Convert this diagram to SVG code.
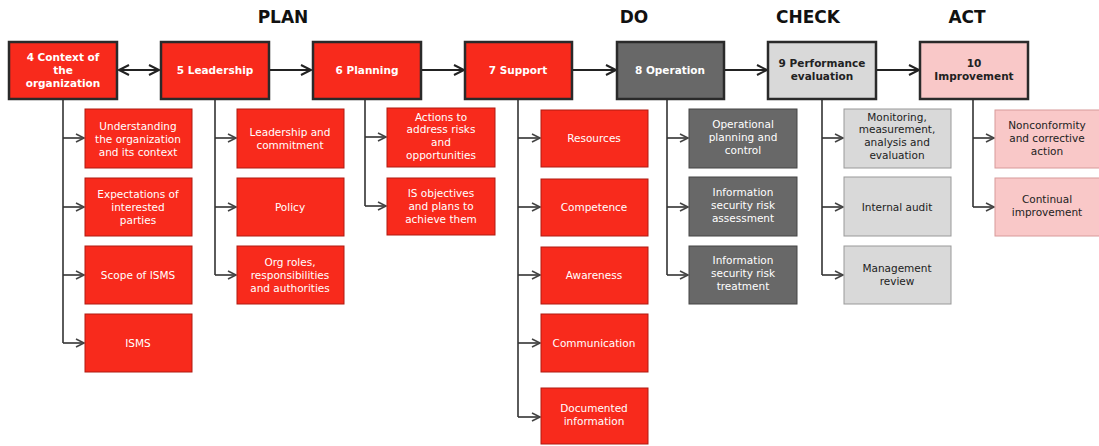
<svg xmlns="http://www.w3.org/2000/svg" width="1099" height="446" viewBox="0 0 1099 446">
<defs>
<marker id="ah" markerUnits="userSpaceOnUse" markerWidth="14" markerHeight="14" refX="11" refY="6" orient="auto-start-reverse">
<path d="M1,1 L11,6 L1,11" fill="none" stroke="#222" stroke-width="2"/>
</marker>
<marker id="ahs" markerUnits="userSpaceOnUse" markerWidth="12" markerHeight="12" refX="9" refY="5" orient="auto">
<path d="M1,1 L9,5 L1,9" fill="none" stroke="#444" stroke-width="1.6"/>
</marker>
</defs>
<style>
.hd{font-family:"DejaVu Sans",Verdana,sans-serif;font-weight:bold;font-size:17px;fill:#111;text-anchor:middle}
.top{stroke:#2a2a2a;stroke-width:2.5}
.red{fill:#f82a1c}
.dk{fill:#686868}
.lg{fill:#d9d9d9}
.pk{fill:#f9c8c8}
.sub{stroke:#b01a10;stroke-width:1}
.subg{stroke:#444;stroke-width:1}
.subl{stroke:#999;stroke-width:1}
.subp{stroke:#d89a9a;stroke-width:1}
.tt{font-family:"DejaVu Sans",Verdana,sans-serif;font-weight:bold;font-size:10.5px;text-anchor:middle}
.st{font-family:"DejaVu Sans",Verdana,sans-serif;font-size:10.5px;text-anchor:middle}
.w{fill:#fff}
.b{fill:#222}
.ln{fill:none;stroke:#222;stroke-width:2}
.sl{fill:none;stroke:#333;stroke-width:1.6}
</style>
<rect width="1099" height="446" fill="#fff"/>
<g id="headers">
<text class="hd" x="283" y="23">PLAN</text>
<text class="hd" x="634" y="23">DO</text>
<text class="hd" x="808" y="23">CHECK</text>
<text class="hd" x="967" y="23">ACT</text>
</g>
<g id="connectors">
<line class="ln" x1="119" y1="70" x2="159" y2="70" marker-start="url(#ah)" marker-end="url(#ah)"/>
<line class="ln" x1="270" y1="70" x2="311" y2="70" marker-end="url(#ah)"/>
<line class="ln" x1="422" y1="70" x2="464" y2="70" marker-end="url(#ah)"/>
<line class="ln" x1="573" y1="70" x2="616" y2="70" marker-end="url(#ah)"/>
<line class="ln" x1="725" y1="70" x2="767" y2="70" marker-end="url(#ah)"/>
<line class="ln" x1="877" y1="70" x2="919" y2="70" marker-end="url(#ah)"/>
<path class="sl" d="M63,100 V343"/>
<path class="sl" d="M63,138 H84" marker-end="url(#ahs)"/>
<path class="sl" d="M63,207 H84" marker-end="url(#ahs)"/>
<path class="sl" d="M63,275 H84" marker-end="url(#ahs)"/>
<path class="sl" d="M63,343 H84" marker-end="url(#ahs)"/>
<path class="sl" d="M215,100 V275"/>
<path class="sl" d="M215,138 H236" marker-end="url(#ahs)"/>
<path class="sl" d="M215,207 H236" marker-end="url(#ahs)"/>
<path class="sl" d="M215,275 H236" marker-end="url(#ahs)"/>
<path class="sl" d="M365,100 V206"/>
<path class="sl" d="M365,137 H386" marker-end="url(#ahs)"/>
<path class="sl" d="M365,206 H386" marker-end="url(#ahs)"/>
<path class="sl" d="M518,100 V417"/>
<path class="sl" d="M518,138 H540" marker-end="url(#ahs)"/>
<path class="sl" d="M518,207 H540" marker-end="url(#ahs)"/>
<path class="sl" d="M518,275 H540" marker-end="url(#ahs)"/>
<path class="sl" d="M518,343 H540" marker-end="url(#ahs)"/>
<path class="sl" d="M518,417 H540" marker-end="url(#ahs)"/>
<path class="sl" d="M667,100 V275"/>
<path class="sl" d="M667,138 H688" marker-end="url(#ahs)"/>
<path class="sl" d="M667,207 H688" marker-end="url(#ahs)"/>
<path class="sl" d="M667,275 H688" marker-end="url(#ahs)"/>
<path class="sl" d="M822,100 V275"/>
<path class="sl" d="M822,138 H843" marker-end="url(#ahs)"/>
<path class="sl" d="M822,207 H843" marker-end="url(#ahs)"/>
<path class="sl" d="M822,275 H843" marker-end="url(#ahs)"/>
<path class="sl" d="M973,100 V207"/>
<path class="sl" d="M973,138 H994" marker-end="url(#ahs)"/>
<path class="sl" d="M973,207 H994" marker-end="url(#ahs)"/>
</g>
<g id="n4"><rect class="red top" x="9" y="42" width="108" height="57"/><text class="tt w" x="63" y="61">4 Context of</text><text class="tt w" x="63" y="74">the</text><text class="tt w" x="63" y="87">organization</text></g>
<g id="n5"><rect class="red top" x="161" y="42" width="108" height="57"/><text class="tt w" x="215" y="74">5 Leadership</text></g>
<g id="n6"><rect class="red top" x="313" y="42" width="108" height="57"/><text class="tt w" x="367" y="74">6 Planning</text></g>
<g id="n7"><rect class="red top" x="465" y="42" width="107" height="57"/><text class="tt w" x="518" y="74">7 Support</text></g>
<g id="n8"><rect class="dk top" x="617" y="42" width="107" height="57"/><text class="tt w" x="670" y="74">8 Operation</text></g>
<g id="n9"><rect class="lg top" x="768" y="42" width="108" height="57"/><text class="tt b" x="822" y="67">9 Performance</text><text class="tt b" x="822" y="80">evaluation</text></g>
<g id="n10"><rect class="pk top" x="920" y="42" width="108" height="57"/><text class="tt b" x="974" y="67">10</text><text class="tt b" x="974" y="80">Improvement</text></g>

<g id="s4a"><rect class="red sub" x="85" y="109" width="107" height="59"/><text class="st w" x="138" y="130">Understanding</text><text class="st w" x="138" y="143">the organization</text><text class="st w" x="138" y="156">and its context</text></g>
<g id="s4b"><rect class="red sub" x="85" y="178" width="107" height="58"/><text class="st w" x="138" y="198">Expectations  of</text><text class="st w" x="138" y="211">interested</text><text class="st w" x="138" y="224">parties</text></g>
<g id="s4c"><rect class="red sub" x="85" y="246" width="107" height="58"/><text class="st w" x="138" y="279">Scope of ISMS</text></g>
<g id="s4d"><rect class="red sub" x="85" y="314" width="107" height="58"/><text class="st w" x="138" y="347">ISMS</text></g>

<g id="s5a"><rect class="red sub" x="237" y="109" width="107" height="59"/><text class="st w" x="290" y="136">Leadership  and</text><text class="st w" x="290" y="149">commitment</text></g>
<g id="s5b"><rect class="red sub" x="237" y="178" width="107" height="58"/><text class="st w" x="290" y="211">Policy</text></g>
<g id="s5c"><rect class="red sub" x="237" y="246" width="107" height="58"/><text class="st w" x="290" y="266">Org roles,</text><text class="st w" x="290" y="279">responsibilities</text><text class="st w" x="290" y="292">and authorities</text></g>

<g id="s6a"><rect class="red sub" x="387" y="108" width="108" height="59"/><text class="st w" x="441" y="121">Actions to</text><text class="st w" x="441" y="133">address risks</text><text class="st w" x="441" y="146">and</text><text class="st w" x="441" y="159">opportunities</text></g>
<g id="s6b"><rect class="red sub" x="387" y="178" width="108" height="57"/><text class="st w" x="441" y="197">IS objectives</text><text class="st w" x="441" y="210">and plans to</text><text class="st w" x="441" y="223">achieve them</text></g>

<g id="s7a"><rect class="red sub" x="541" y="110" width="107" height="57"/><text class="st w" x="594" y="142">Resources</text></g>
<g id="s7b"><rect class="red sub" x="541" y="179" width="107" height="57"/><text class="st w" x="594" y="211">Competence</text></g>
<g id="s7c"><rect class="red sub" x="541" y="247" width="107" height="57"/><text class="st w" x="594" y="279">Awareness</text></g>
<g id="s7d"><rect class="red sub" x="541" y="314" width="107" height="58"/><text class="st w" x="594" y="347">Communication</text></g>
<g id="s7e"><rect class="red sub" x="541" y="388" width="107" height="56"/><text class="st w" x="594" y="412">Documented</text><text class="st w" x="594" y="425">information</text></g>

<g id="s8a"><rect class="dk subg" x="689" y="109" width="108" height="59"/><text class="st w" x="743" y="128">Operational</text><text class="st w" x="743" y="141">planning  and</text><text class="st w" x="743" y="154">control</text></g>
<g id="s8b"><rect class="dk subg" x="689" y="177" width="108" height="59"/><text class="st w" x="743" y="196">Information</text><text class="st w" x="743" y="209">security risk</text><text class="st w" x="743" y="222">assessment</text></g>
<g id="s8c"><rect class="dk subg" x="689" y="246" width="108" height="58"/><text class="st w" x="743" y="264">Information</text><text class="st w" x="743" y="277">security risk</text><text class="st w" x="743" y="290">treatment</text></g>

<g id="s9a"><rect class="lg subl" x="844" y="109" width="107" height="59"/><text class="st b" x="897" y="121">Monitoring,</text><text class="st b" x="897" y="133">measurement,</text><text class="st b" x="897" y="146">analysis and</text><text class="st b" x="897" y="159">evaluation</text></g>
<g id="s9b"><rect class="lg subl" x="844" y="177" width="107" height="59"/><text class="st b" x="897" y="211">Internal audit</text></g>
<g id="s9c"><rect class="lg subl" x="844" y="246" width="107" height="58"/><text class="st b" x="897" y="272">Management</text><text class="st b" x="897" y="285">review</text></g>

<g id="s10a"><rect class="pk subp" x="995" y="110" width="106" height="58"/><text class="st b" x="1047" y="129">Nonconformity</text><text class="st b" x="1047" y="142">and corrective</text><text class="st b" x="1047" y="155">action</text></g>
<g id="s10b"><rect class="pk subp" x="995" y="178" width="106" height="58"/><text class="st b" x="1047" y="203">Continual</text><text class="st b" x="1047" y="216">improvement</text></g>
</svg>
